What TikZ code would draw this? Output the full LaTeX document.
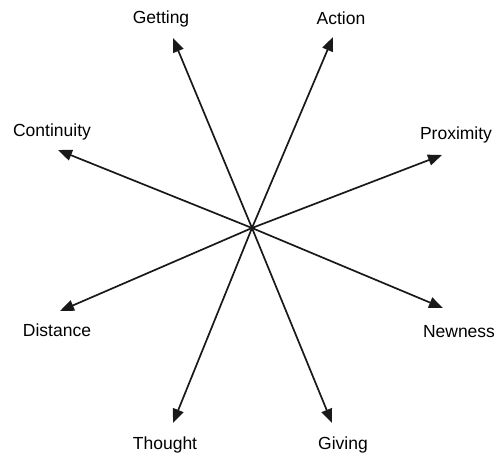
\documentclass[tikz,border=0pt]{standalone}
\usepackage{fontspec}
\setmainfont{Liberation Sans}
\usetikzlibrary{arrows.meta}
\begin{document}
\begin{tikzpicture}[
        x=1pt, y=-1pt,
        % Nhãn
        lbl/.style={font=\fontsize{17.5}{20}\selectfont, inner sep=0pt},
        % Mũi tên
        arr/.style={-{Triangle[length=14pt,width=11pt]}, line width=1.7pt, draw=black!90}
    ]
        \useasboundingbox (0,0) rectangle (495,454);

        % Tâm
        \coordinate (c) at (252,228);

        % Đầu mũi tên
        \coordinate (tGet) at (173,38);
        \coordinate (tAct) at (333,37);
        \coordinate (tCon) at (58,150);
        \coordinate (tPro) at (442,155);
        \coordinate (tDis) at (60,311);
        \coordinate (tNew) at (443,308);
        \coordinate (tTho) at (173,423);
        \coordinate (tGiv) at (332,423);

        % Nhãn
        \node [lbl] (get) at (161,19) {Getting};
        \node [lbl] (act) at (341,18) {Action};
        \node [lbl] (con) at (52,132) {Continuity};
        \node [lbl] (pro) at (456,135) {Proximity};
        \node [lbl] (dis) at (57,330) {Distance};
        \node [lbl] (new) at (459,332) {Newness};
        \node [lbl] (tho) at (165,445) {Thought};
        \node [lbl] (giv) at (343,445) {Giving};

        % Mũi tên nối
        \draw [arr] (c) -- (tGet);
        \draw [arr] (c) -- (tAct);
        \draw [arr] (c) -- (tCon);
        \draw [arr] (c) -- (tPro);
        \draw [arr] (c) -- (tDis);
        \draw [arr] (c) -- (tNew);
        \draw [arr] (c) -- (tTho);
        \draw [arr] (c) -- (tGiv);

    \end{tikzpicture}
\end{document}
